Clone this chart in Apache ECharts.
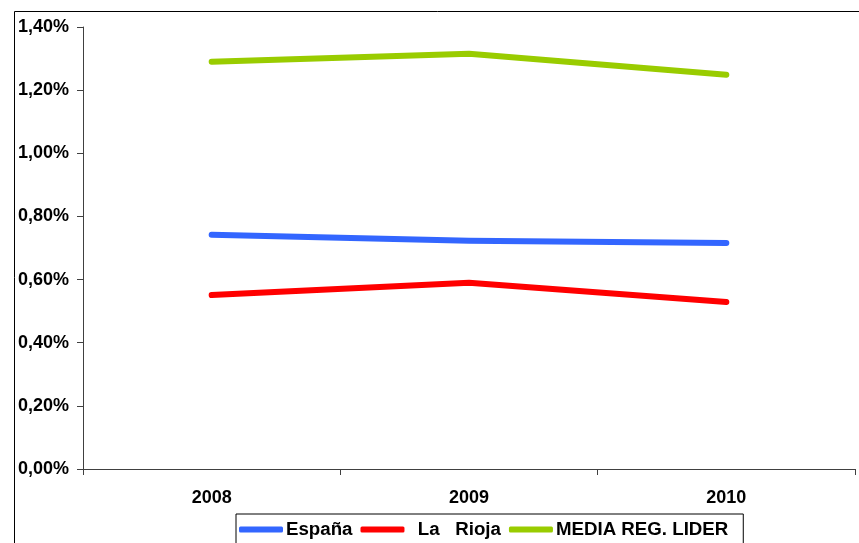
<!DOCTYPE html>
<html><head><meta charset="utf-8">
<script src="https://cdn.jsdelivr.net/npm/echarts@6/dist/echarts.min.js"></script>
<style>html,body{margin:0;padding:0;background:#fff}#c{width:859px;height:543px}</style>
</head><body><div id="c"></div>
<script>
const years = ['2008','2009','2010'];
const espana = [0.742, 0.723, 0.716];
const rioja = [0.551, 0.590, 0.529];
const media = [1.290, 1.315, 1.249];
const yTicks = {min: 0, max: 1.4, interval: 0.2};

const chart = echarts.init(document.getElementById('c'), null, {renderer: 'canvas'});
const font = 'Liberation Sans, Arial, sans-serif';
function mk(name, data, color) {
  return {name, type: 'line', data, symbol: 'none', smooth: false,
    lineStyle: {color, width: 6, cap: 'round', join: 'round'}, itemStyle: {color}};
}
chart.setOption({
  animation: false,
  graphic: [{type: 'rect', shape: {x: 14.5, y: 11.5, width: 900, height: 600},
    style: {fill: 'none', stroke: '#000', lineWidth: 1}, silent: true}],
  grid: {left: 83, right: 4, top: 27, bottom: 74},
  legend: {
    left: 236, top: 514, itemWidth: 44, itemHeight: 6, itemGap: 8,
    icon: 'roundRect', borderColor: '#000', borderWidth: 1,
    padding: [6, 15, 30, 3],
    textStyle: {fontFamily: font, fontWeight: 'bold', fontSize: 18.7, color: '#000', padding: [0, 0, 0, -2]},
    data: ['España', '  La   Rioja', 'MEDIA REG. LIDER']
  },
  xAxis: {type: 'category', data: years, boundaryGap: true,
    axisLine: {lineStyle: {color: '#404040', width: 1}},
    axisTick: {show: true, length: 6, inside: false, lineStyle: {color: '#404040'}},
    axisLabel: {fontFamily: font, fontWeight: 'bold', fontSize: 18, color: '#000', margin: 20}},
  yAxis: {type: 'value', min: yTicks.min, max: yTicks.max, interval: yTicks.interval,
    splitLine: {show: false},
    axisLine: {show: true, lineStyle: {color: '#404040', width: 1}},
    axisTick: {show: true, length: 6, lineStyle: {color: '#404040'}},
    axisLabel: {fontFamily: font, fontWeight: 'bold', fontSize: 18, color: '#000', margin: 14,
      formatter: v => v.toFixed(2).replace('.', ',') + '%'}},
  series: [mk('España', espana, '#3366FF'), mk('  La   Rioja', rioja, '#FF0000'), mk('MEDIA REG. LIDER', media, '#99CC00')]
});
</script></body></html>
